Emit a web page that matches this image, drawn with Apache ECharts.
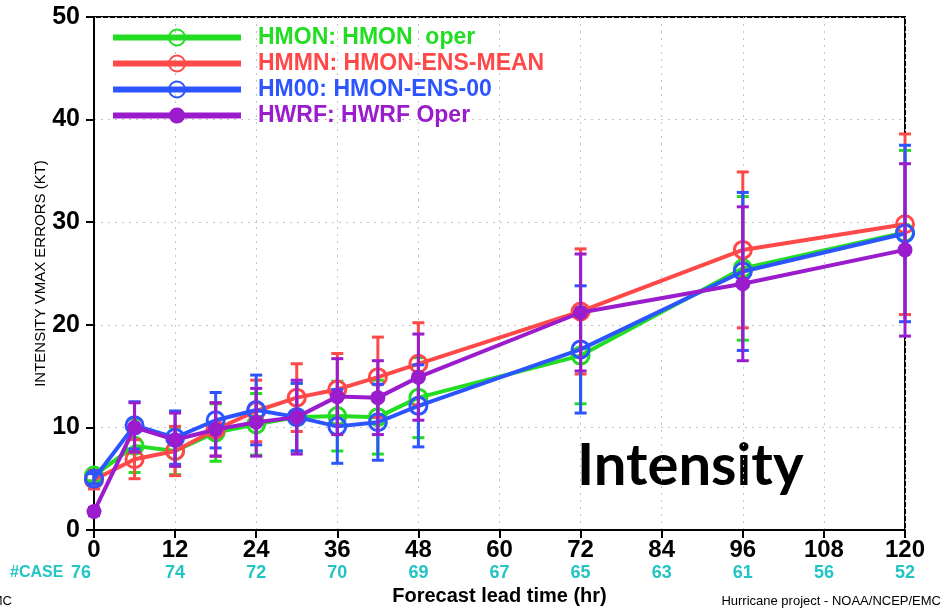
<!DOCTYPE html>
<html>
<head>
<meta charset="utf-8">
<script src="https://cdn.jsdelivr.net/npm/echarts@6/dist/echarts.min.js"></script>
<style>
  html, body { margin: 0; padding: 0; background: #fff; }
  #chart { width: 945px; height: 611px; }
</style>
</head>
<body>
<div id="chart"></div>
<script>
// forecast lead times (hr)
const leadTimes = [0, 6, 12, 18, 24, 30, 36, 42, 48, 72, 96, 120];

// mean intensity errors (kt) and half-width of error bars
const hmon = [5.3, 8.2, 7.7, 9.5, 10.3, 11.0, 11.1, 11.0, 12.9, 17.0, 25.5, 29.0];
const hmonErr = [0.5, 2.6, 2.3, 2.8, 3.0, 3.3, 3.4, 3.6, 3.9, 4.7, 7.0, 8.0];
const hmmn = [4.9, 6.9, 7.7, 9.8, 11.6, 12.9, 13.7, 14.9, 16.2, 21.3, 27.3, 29.8];
const hmmnErr = [0.9, 1.9, 2.4, 2.6, 3.0, 3.3, 3.5, 3.9, 4.0, 6.1, 7.6, 8.8];
const hm00 = [5.0, 10.2, 9.0, 10.7, 11.7, 11.0, 10.1, 10.5, 12.1, 17.6, 25.2, 28.9];
const hm00Err = [0.5, 2.3, 2.6, 2.7, 3.4, 3.3, 3.6, 3.7, 4.0, 6.2, 7.7, 8.6];
const hwrf = [1.8, 10.0, 8.8, 9.8, 10.5, 11.0, 13.0, 12.9, 14.9, 21.2, 24.0, 27.3];
const hwrfErr = [0.4, 2.4, 2.6, 2.6, 3.3, 3.6, 3.7, 3.6, 4.2, 5.7, 7.5, 8.4];

// number of cases per labelled lead time
const caseTicks = [0, 12, 24, 36, 48, 60, 72, 84, 96, 108, 120];
const caseCounts = [76, 74, 72, 70, 69, 67, 65, 63, 61, 56, 52];

const models = [
  { name: 'HMON: HMON  oper', vals: hmon, err: hmonErr, color: '#22dd22', filled: false },
  { name: 'HMMN: HMON-ENS-MEAN', vals: hmmn, err: hmmnErr, color: '#ff4848', filled: false },
  { name: 'HM00: HMON-ENS-00', vals: hm00, err: hm00Err, color: '#2c55ff', filled: false },
  { name: 'HWRF: HWRF Oper', vals: hwrf, err: hwrfErr, color: '#9a1ccc', filled: true }
];

const FONT = '"Liberation Sans", Arial, sans-serif';
const CASE_COLOR = '#22c4c4';

function errorBarItem(params, api) {
  const x = api.value(0);
  const bot = api.coord([x, api.value(1)]);
  const top = api.coord([x, api.value(2)]);
  const half = 6;
  const style = { stroke: api.visual('color'), lineWidth: 3 };
  return {
    type: 'group',
    children: [
      { type: 'line', shape: { x1: top[0], y1: top[1], x2: bot[0], y2: bot[1] }, style: style },
      { type: 'line', shape: { x1: top[0] - half, y1: top[1], x2: top[0] + half, y2: top[1] }, style: style },
      { type: 'line', shape: { x1: bot[0] - half, y1: bot[1], x2: bot[0] + half, y2: bot[1] }, style: style }
    ]
  };
}

const series = [];
models.forEach(function (m, i) {
  series.push({
    name: m.name + ' err',
    type: 'custom',
    renderItem: errorBarItem,
    itemStyle: { color: m.color },
    data: leadTimes.map(function (t, k) { return [t, m.vals[k] - m.err[k], m.vals[k] + m.err[k]]; }),
    z: 2 + i * 2,
    silent: true
  });
  series.push({
    name: m.name,
    type: 'line',
    data: leadTimes.map(function (t, k) { return [t, m.vals[k]]; }),
    symbol: 'circle',
    symbolSize: m.filled ? 15 : 17,
    color: m.color,
    lineStyle: { width: 4, color: m.color },
    itemStyle: m.filled
      ? { color: m.color }
      : { color: 'rgba(255,255,255,0)', borderColor: m.color, borderWidth: 3 },
    z: 3 + i * 2
  });
});

const chart = echarts.init(document.getElementById('chart'));
chart.setOption({
  animation: false,
  backgroundColor: '#fff',
  grid: {
    left: 94, right: 40, top: 17, bottom: 80,
    show: true, borderColor: '#000', borderWidth: 2
  },
  legend: {
    orient: 'vertical',
    left: 105,
    top: 21,
    itemWidth: 128,
    itemHeight: 20,
    itemGap: 3,
    lineStyle: { width: 6 },
    textStyle: { fontFamily: FONT, fontSize: 23, fontWeight: 'bold', padding: [0, 0, 0, 12] },
    data: models.map(function (m) { return { name: m.name, textStyle: { color: m.color } }; })
  },
  xAxis: {
    type: 'value',
    min: 0, max: 120, interval: 12,
    name: 'Forecast lead time (hr)',
    nameLocation: 'middle',
    nameGap: 56,
    nameMoveOverlap: false,
    nameTextStyle: { fontFamily: FONT, fontSize: 20, fontWeight: 'bold', color: '#000' },
    axisLine: { lineStyle: { color: '#000', width: 2 } },
    axisTick: { show: true, length: 8, lineStyle: { color: '#000', width: 2 } },
    axisLabel: {
      margin: 8,
      formatter: function (v) {
        const k = caseTicks.indexOf(v);
        const c = k >= 0 ? caseCounts[k] : '';
        return '{v|' + v + '}\n{' + (v === 0 ? 'c0' : 'c') + '|' + c + '}';
      },
      rich: {
        v: { fontFamily: FONT, fontSize: 24, fontWeight: 'bold', color: '#000', lineHeight: 24 },
        c: { fontFamily: FONT, fontSize: 18, fontWeight: 'bold', color: CASE_COLOR, lineHeight: 22 },
        c0: { fontFamily: FONT, fontSize: 18, fontWeight: 'bold', color: CASE_COLOR, lineHeight: 22, padding: [0, 26, 0, 0] }
      }
    },
    splitLine: { show: true, lineStyle: { color: '#c4c4c4', type: [2, 5], width: 1 } }
  },
  yAxis: {
    type: 'value',
    min: 0, max: 50, interval: 10,
    name: 'INTENSITY VMAX ERRORS (KT)',
    nameLocation: 'middle',
    nameGap: 46,
    nameMoveOverlap: false,
    nameTextStyle: { fontFamily: FONT, fontSize: 15, color: '#000' },
    axisLine: { lineStyle: { color: '#000', width: 2 } },
    axisTick: { show: true, length: 8, lineStyle: { color: '#000', width: 2 } },
    axisLabel: { fontFamily: FONT, fontSize: 25, fontWeight: 'bold', color: '#000', margin: 14 },
    splitLine: { show: true, lineStyle: { color: '#c4c4c4', type: [2, 5], width: 1 } }
  },
  graphic: [
    {
      type: 'text', left: 10, top: 565,
      style: { text: '#CASE', font: 'bold 16px ' + FONT, fill: CASE_COLOR }
    },
    {
      type: 'text', x: 577, y: 466,
      style: { text: 'Intensity', font: 'bold 58px Lato, "Open Sans", sans-serif', fill: '#000', textVerticalAlign: 'middle' }
    },
    {
      type: 'text', right: 4, top: 595,
      style: { text: 'Hurricane project - NOAA/NCEP/EMC', font: '13px ' + FONT, fill: '#000' }
    },
    {
      type: 'text', x: 12, y: 601,
      style: { text: 'NOAA/NCEP/EMC', font: '13px ' + FONT, fill: '#000', textAlign: 'right', textVerticalAlign: 'middle' }
    }
  ],
  series: series
});
</script>
</body>
</html>
